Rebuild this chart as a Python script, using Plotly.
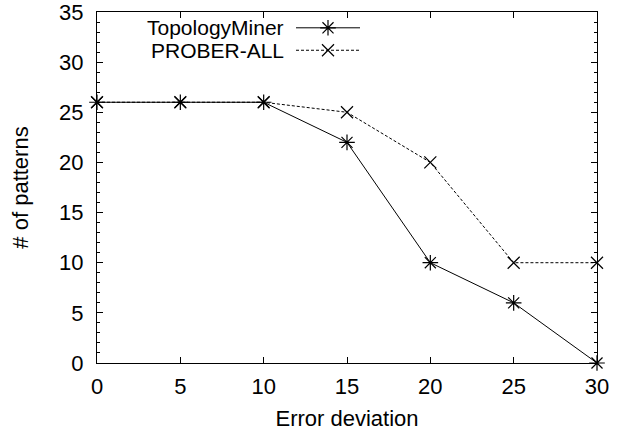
import plotly.graph_objects as go

error_deviation = [0, 5, 10, 15, 20, 25, 30]
topology_miner = [26, 26, 26, 22, 10, 6, 0]
prober_all = [26, 26, 26, 25, 20, 10, 10]

series_names = ["TopologyMiner", "PROBER-ALL"]

FONT = "Liberation Sans, Arial, Helvetica, sans-serif"
FS = 22
TM_LINE = dict(color="black", width=1)
TM_MARK = dict(symbol="asterisk-open", size=13, color="black", line=dict(color="black", width=1.2))
PA_LINE = dict(color="black", width=1, dash="3px,2px")
PA_MARK = dict(symbol="x-thin-open", size=12, color="black", line=dict(color="black", width=1.2))

fig = go.Figure()

fig.add_trace(go.Scatter(
    x=error_deviation, y=topology_miner, mode="lines+markers",
    line=TM_LINE, marker=TM_MARK, showlegend=False, cliponaxis=False,
))
fig.add_trace(go.Scatter(
    x=error_deviation, y=prober_all, mode="lines+markers",
    line=PA_LINE, marker=PA_MARK, showlegend=False, cliponaxis=False,
))

# key samples drawn on a hidden overlay axis in [0,1] coordinates
key_rows = [0.955, 0.891]
key_styles = [(TM_LINE, TM_MARK), (PA_LINE, PA_MARK)]
for name, yk, (ln, mk) in zip(series_names, key_rows, key_styles):
    fig.add_trace(go.Scatter(
        x=[0.398, 0.526], y=[yk, yk], mode="lines",
        line=ln, xaxis="x2", yaxis="y2", showlegend=False, hoverinfo="skip",
    ))
    fig.add_trace(go.Scatter(
        x=[0.462], y=[yk], mode="markers", marker=mk,
        xaxis="x2", yaxis="y2", showlegend=False, hoverinfo="skip",
    ))
    fig.add_annotation(
        x=0.37, y=yk, xref="x2", yref="y2", text=name, showarrow=False,
        xanchor="right", yanchor="middle", xshift=3, borderpad=0,
        font=dict(family=FONT, size=21, color="black"),
    )

axis_common = dict(
    showgrid=False, zeroline=False, showline=True, linecolor="black", linewidth=1,
    ticks="inside", mirror="allticks", tickcolor="black", automargin=False,
    ticklabeloverflow="allow",
    tickfont=dict(family=FONT, size=FS, color="black"),
)

fig.update_layout(
    width=617, height=434,
    margin=dict(l=97, r=20, t=12, b=71),
    plot_bgcolor="white", paper_bgcolor="white",
    xaxis=dict(
        range=[0, 30], tickvals=error_deviation, ticklen=6, ticklabelstandoff=4,
        title=dict(text="Error deviation", font=dict(family=FONT, size=FS, color="black"), standoff=12),
        **axis_common,
    ),
    yaxis=dict(
        range=[0, 35], tickvals=[0, 5, 10, 15, 20, 25, 30, 35], ticklen=6, ticklabelstandoff=8,
        minor=dict(ticks="inside", dtick=1, ticklen=3, tickcolor="black"),
        title=dict(text="# of patterns", font=dict(family=FONT, size=FS, color="black"), standoff=24),
        **axis_common,
    ),
    xaxis2=dict(range=[0, 1], overlaying="x", visible=False),
    yaxis2=dict(range=[0, 1], overlaying="y", visible=False),
)

fig.write_html("out.html")
